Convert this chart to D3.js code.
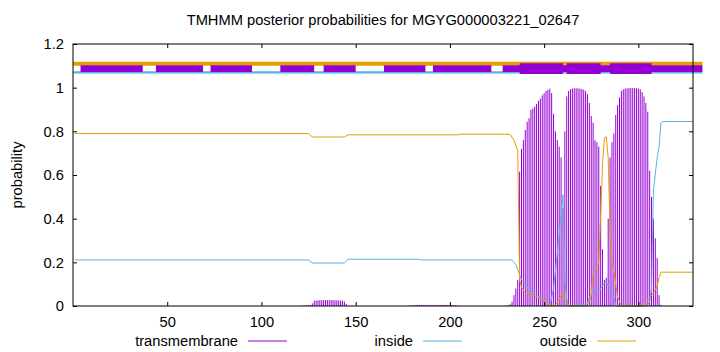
<!DOCTYPE html>
<html>
<head>
<meta charset="utf-8">
<script src="https://cdn.jsdelivr.net/npm/d3@7"></script>
<style>
body { margin: 0; background: #fff; }
text { font-family: "Liberation Sans", Arial, sans-serif; font-size: 14.7px; fill: #000; }
</style>
</head>
<body>
<div id="main"></div>
<script>
var title = 'TMHMM posterior probabilities for MGYG000003221_02647';
var seriesNames = ['transmembrane', 'inside', 'outside'];
var xTicks = [50, 100, 150, 200, 250, 300];
var yTicks = [0, 0.2, 0.4, 0.6, 0.8, 1, 1.2];
var xMax = 329;

// transmembrane probability per residue, in runs starting at tmStarts[i]
var tmStarts = [120, 178, 228];
var tmLow1 = [0.001, 0.001, 0.002, 0.003, 0.003, 0.004, 0.005, 0.012, 0.024, 0.025, 0.026, 0.026, 0.027,
    0.027, 0.027, 0.027, 0.027, 0.027, 0.027, 0.026, 0.026, 0.026, 0.025, 0.024, 0.02, 0.01];
var tmLow2 = [0.001, 0.002, 0.003, 0.004, 0.005, 0.005, 0.005, 0.005, 0.005, 0.005, 0.005, 0.005, 0.005,
    0.005, 0.005, 0.005, 0.005, 0.005, 0.005, 0.005, 0.005, 0.005, 0.005, 0.005, 0.004, 0.003, 0.002, 0.001];
var tmPeaks = [0.001, 0.001, 0.002, 0.004, 0.008, 0.02, 0.05, 0.08, 0.12, 0.615,
    0.72, 0.76, 0.806, 0.844, 0.86, 0.898, 0.905, 0.913, 0.925, 0.94,
    0.95, 0.965, 0.975, 0.985, 0.99, 0.995, 0.975, 0.88, 0.80, 0.76,
    0.73, 0.68, 0.45, 0.80, 0.96, 0.985, 0.993, 0.996, 0.997, 0.997,
    0.997, 0.996, 0.994, 0.99, 0.985, 0.97, 0.93, 0.87, 0.84, 0.76,
    0.75, 0.73, 0.55, 0.26, 0.12, 0.13, 0.40, 0.68, 0.75, 0.79,
    0.875, 0.92, 0.955, 0.985, 0.993, 0.996, 0.997, 0.998, 0.998, 0.998,
    0.998, 0.997, 0.996, 0.993, 0.98, 0.96, 0.93, 0.89, 0.62, 0.50,
    0.40, 0.31, 0.22, 0.05, 0.005];

// inside / outside probability, [residue, prob]
var insidePts = [[1, 0.211], [125, 0.211], [127, 0.197], [144, 0.197], [146, 0.214], [183, 0.214], [185, 0.211],
    [233, 0.211], [235, 0.19], [236, 0.165], [238, 0.12], [240, 0.1], [242, 0.08], [244, 0.06], [249, 0.035],
    [253, 0.0], [255, 0.08], [257, 0.24], [258, 0.33], [259, 0.41], [260, 0.51], [261, 0.12], [262, 0.03],
    [263, 0.0], [273, 0.01], [274, 0.04], [276, 0.07], [278, 0.065], [280, 0.08], [281, 0.095], [283, 0.11],
    [285, 0.08], [287, 0.04], [288, 0.0], [304, 0.0], [306, 0.02], [307, 0.08], [308, 0.53], [310, 0.68],
    [311, 0.73], [312, 0.84], [313, 0.845], [329, 0.845]];
var outsidePts = [[1, 0.79], [125, 0.79], [127, 0.774], [144, 0.774], [146, 0.784], [204, 0.784], [206, 0.787],
    [229, 0.787], [232, 0.785], [234, 0.76], [236, 0.71], [237, 0.12], [238, 0.085], [240, 0.06], [245, 0.045],
    [249, 0.03], [252, 0.01], [254, 0.0], [256, 0.005], [258, 0.03], [260, 0.06], [261, 0.03], [263, 0.0],
    [272, 0.0], [274, 0.02], [275, 0.05], [276, 0.15], [278, 0.175], [279, 0.2], [280, 0.42], [281, 0.65],
    [282, 0.77], [283, 0.775], [284, 0.68], [285, 0.35], [286, 0.2], [287, 0.16], [289, 0.04], [291, 0.0],
    [302, 0.0], [304, 0.01], [306, 0.04], [308, 0.06], [310, 0.09], [311, 0.13], [312, 0.155], [329, 0.155]];

// topology strip at the top: [from, to] residue ranges
var topOutside = [[0, 334]];
var topInside = [[0, 334]];
var topTmThin = [[4, 37], [44, 69], [73, 95], [110, 128], [133, 150], [165, 187], [191, 222], [228, 334]];
var topTmThick = [[237, 260], [262, 280], [285, 307]];
var levelOutside = 1.11, levelInside = 1.07, levelTm = 1.087;

var colors = ['#9400D3', '#56B4E9', '#E69F00'];
var W = 720, H = 352;
var pL = 73, pR = 693, pT = 44, pB = 306;

var svg = d3.select('#main').append('svg').attr('width', W).attr('height', H);
var x = d3.scaleLinear().domain([0, xMax]).range([pL, pR]);
var y = d3.scaleLinear().domain([0, 1.2]).range([pB, pT]);

// transmembrane impulses
var tmRuns = [tmLow1, tmLow2, tmPeaks];
var tmData = [];
tmRuns.forEach(function(run, k) {
    run.forEach(function(v, i) { tmData.push([tmStarts[k] + i, v]); });
});
svg.append('g').selectAll('line').data(tmData).enter().append('line')
    .attr('x1', function(d) { return x(d[0]); }).attr('x2', function(d) { return x(d[0]); })
    .attr('y1', y(0)).attr('y2', function(d) { return y(d[1]); })
    .attr('stroke', colors[0]).attr('stroke-width', 1);

var line = d3.line().x(function(d) { return x(d[0]); }).y(function(d) { return y(d[1]); });
svg.append('path').datum(insidePts).attr('d', line)
    .attr('fill', 'none').attr('stroke', colors[1]).attr('stroke-width', 1);
svg.append('path').datum(outsidePts).attr('d', line)
    .attr('fill', 'none').attr('stroke', colors[2]).attr('stroke-width', 1);

// topology strip
function strip(ranges, level, color, width) {
    svg.append('g').selectAll('line').data(ranges).enter().append('line')
        .attr('x1', function(d) { return x(d[0]); }).attr('x2', function(d) { return x(d[1]); })
        .attr('y1', y(level)).attr('y2', y(level))
        .attr('stroke', color).attr('stroke-width', width);
}
strip(topOutside, levelOutside, colors[2], 4);
strip(topInside, levelInside, colors[1], 2.4);
strip(topTmThin, levelTm, colors[0], 6.8);
strip(topTmThick, levelTm, colors[0], 10.6);

// axes
var gx = svg.append('g').attr('transform', 'translate(0,' + pB + ')')
    .call(d3.axisBottom(x).tickValues(xTicks).tickSizeInner(-4).tickSizeOuter(0).tickPadding(11));
var gxt = svg.append('g').attr('transform', 'translate(0,' + pT + ')')
    .call(d3.axisTop(x).tickValues(xTicks).tickSizeInner(-4).tickSizeOuter(0).tickFormat(''));
var gy = svg.append('g').attr('transform', 'translate(' + pL + ',0)')
    .call(d3.axisLeft(y).tickValues(yTicks).tickSizeInner(-4).tickSizeOuter(0).tickPadding(9)
        .tickFormat(function(d) { return d3.format('~g')(d); }));
var gyr = svg.append('g').attr('transform', 'translate(' + pR + ',0)')
    .call(d3.axisRight(y).tickValues(yTicks).tickSizeInner(-4).tickSizeOuter(0).tickFormat(''));
[gx, gxt, gy, gyr].forEach(function(g) {
    g.select('.domain').remove();
    g.selectAll('line').attr('stroke', '#000');
    g.selectAll('text').attr('font-family', null).attr('font-size', null);
});

svg.append('rect').attr('x', pL).attr('y', pT)
    .attr('width', pR - pL).attr('height', pB - pT)
    .attr('fill', 'none').attr('stroke', '#000').attr('stroke-width', 1);

svg.append('text').attr('x', (pL + pR) / 2).attr('y', 25)
    .attr('text-anchor', 'middle').text(title);
svg.append('text').attr('transform', 'translate(22,175) rotate(-90)')
    .attr('text-anchor', 'middle').text('probability');

// legend
var legendEnds = [238, 413, 587];
var legend = svg.append('g').selectAll('g').data(seriesNames).enter().append('g');
legend.append('text').attr('x', function(d, i) { return legendEnds[i]; }).attr('y', 346)
    .attr('text-anchor', 'end').text(function(d) { return d; });
legend.append('line')
    .attr('x1', function(d, i) { return legendEnds[i] + 10; })
    .attr('x2', function(d, i) { return legendEnds[i] + 49; })
    .attr('y1', 341).attr('y2', 341)
    .attr('stroke', function(d, i) { return colors[i]; }).attr('stroke-width', 1);
</script>
</body>
</html>
